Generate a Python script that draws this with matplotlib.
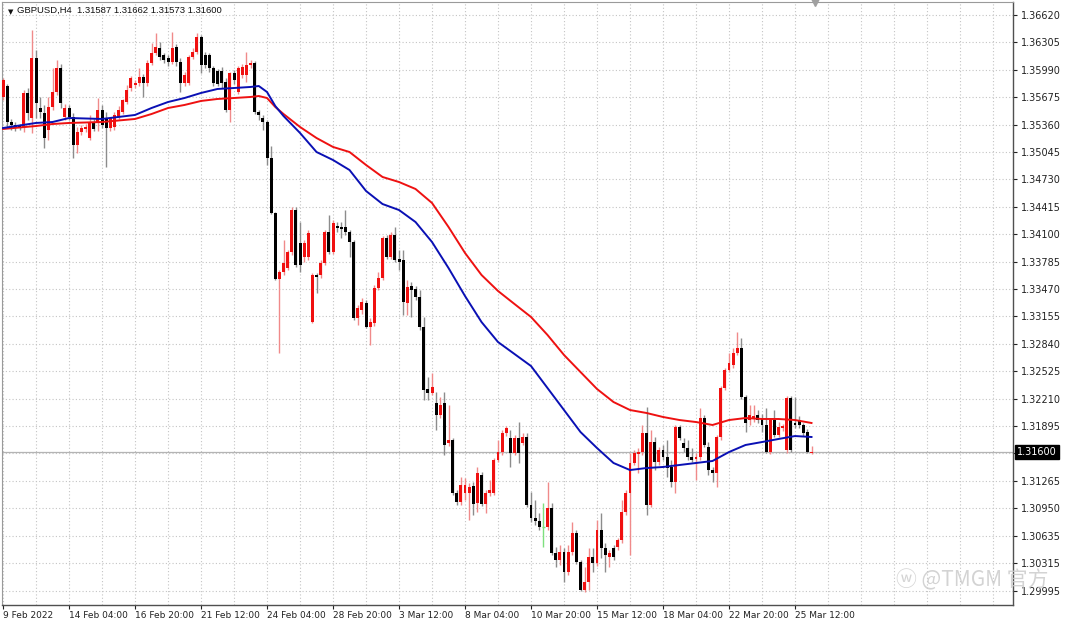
import numpy as np
import matplotlib
matplotlib.use("Agg")
import matplotlib.pyplot as plt
import matplotlib.transforms as mtransforms

# ── H4 candles (GBPUSD) ───────────────────────────────────────────────────────
opens = [
    1.35678, 1.35804, 1.35390, 1.35356, 1.35344, 1.35333, 1.35724, 1.35436, 1.36126, 1.35551,
    1.35494, 1.35298, 1.35563, 1.35735, 1.36011, 1.35448, 1.35551, 1.35448, 1.35126, 1.35275,
    1.35310, 1.35206, 1.35379, 1.35379, 1.35528, 1.35436, 1.35321, 1.35333, 1.35448, 1.35505,
    1.35620, 1.35781, 1.35816, 1.35839, 1.35908, 1.35839, 1.36069, 1.36184, 1.36241, 1.36161,
    1.36126, 1.36080, 1.36253, 1.36080, 1.35839, 1.35839, 1.36138, 1.36195, 1.36368, 1.36161,
    1.36161, 1.36011, 1.35977, 1.35977, 1.35850, 1.35528, 1.35954, 1.35735, 1.35931, 1.35931,
    1.36046, 1.36069, 1.35505, 1.35436, 1.35390, 1.34976, 1.34344, 1.33585, 1.33665, 1.33711,
    1.33895, 1.34378, 1.33999, 1.33838, 1.33838, 1.33090, 1.33631, 1.33631, 1.33769, 1.34125,
    1.33895, 1.34194, 1.34183, 1.34183, 1.34125, 1.34010, 1.33136, 1.33228, 1.33309, 1.33033,
    1.33079, 1.33481, 1.33596, 1.34056, 1.33838, 1.34091, 1.33815, 1.33803, 1.33309, 1.33504,
    1.33470, 1.33378, 1.33033, 1.32320, 1.32274, 1.32159, 1.32021, 1.32159, 1.31699, 1.31733,
    1.31124, 1.31020, 1.31124, 1.31124, 1.31204, 1.31009, 1.31331, 1.30997, 1.31124, 1.31124,
    1.31503, 1.31595, 1.31814, 1.31756, 1.31584, 1.31756, 1.31699, 1.31768, 1.30986, 1.30836,
    1.30802, 1.30733, 1.30733, 1.30951, 1.30434, 1.30353, 1.30445, 1.30215, 1.30445, 1.30664,
    1.30330, 1.30008, 1.30100, 1.30388, 1.30319, 1.30698, 1.30491, 1.30388, 1.30491, 1.30503,
    1.30583, 1.30905, 1.31124, 1.31469, 1.31572, 1.31595, 1.31814, 1.30986, 1.31710, 1.31480,
    1.31618, 1.31538, 1.31423, 1.31250, 1.31883, 1.31699, 1.31641, 1.31538, 1.31515, 1.31538,
    1.31986, 1.31653, 1.31388, 1.31354, 1.31768, 1.32331, 1.32538, 1.32596, 1.32734, 1.32791,
    1.32228, 1.31963, 1.31986, 1.32021, 1.31986, 1.31906, 1.31595, 1.31963, 1.31791, 1.31871,
    1.31618, 1.32216, 1.31929, 1.31963, 1.31906, 1.31825, 1.31587,
]
highs = [
    1.35896, 1.35827, 1.35425, 1.35390, 1.35367, 1.35758, 1.35781, 1.36448, 1.36218, 1.35678,
    1.35586, 1.35678, 1.36011, 1.36103, 1.36057, 1.35597, 1.35586, 1.35494, 1.35333, 1.35356,
    1.35367, 1.35471, 1.35425, 1.35666, 1.35586, 1.35505, 1.35448, 1.35505, 1.35574, 1.35655,
    1.35816, 1.35919, 1.35873, 1.36011, 1.35942, 1.36103, 1.36299, 1.36414, 1.36310, 1.36184,
    1.36161, 1.36425, 1.36287, 1.36126, 1.35965, 1.36161, 1.36241, 1.36414, 1.36391, 1.36195,
    1.36184, 1.36034, 1.36000, 1.36023, 1.35896, 1.35965, 1.35988, 1.36034, 1.36057, 1.36195,
    1.36103, 1.36092, 1.35528, 1.35471, 1.35413, 1.35114, 1.34355, 1.33688, 1.34033, 1.33918,
    1.34413, 1.34413, 1.34240, 1.34033, 1.34148, 1.33654, 1.33654, 1.33803, 1.34148, 1.34321,
    1.34263, 1.34240, 1.34240, 1.34378, 1.34148, 1.34033, 1.33286, 1.33366, 1.33343, 1.33136,
    1.33516, 1.33665, 1.34079, 1.34091, 1.34125, 1.34183, 1.33918, 1.33918, 1.33573, 1.33550,
    1.33504, 1.33458, 1.33148, 1.32458, 1.32504, 1.32285, 1.32228, 1.32285, 1.32136, 1.31756,
    1.31158, 1.31308, 1.31296, 1.31239, 1.31250, 1.31423, 1.31365, 1.31158, 1.31273, 1.31526,
    1.31733, 1.31848, 1.31894, 1.31848, 1.31791, 1.31940, 1.31814, 1.31814, 1.31135, 1.31043,
    1.30894, 1.31009, 1.31250, 1.31009, 1.30503, 1.30526, 1.30491, 1.30526, 1.30790, 1.30698,
    1.30353, 1.30273, 1.30491, 1.30491, 1.30813, 1.30894, 1.30549, 1.30468, 1.30526, 1.30606,
    1.31043, 1.31158, 1.31584, 1.31618, 1.31641, 1.31906, 1.32113, 1.31848, 1.31768, 1.31653,
    1.31676, 1.31733, 1.31503, 1.31906, 1.31906, 1.31756, 1.31733, 1.31641, 1.31584, 1.32101,
    1.32021, 1.31710, 1.31423, 1.31791, 1.32354, 1.32561, 1.32734, 1.32791, 1.32975, 1.32906,
    1.32251, 1.32136, 1.32136, 1.32078, 1.32032, 1.32101, 1.31986, 1.32078, 1.31940, 1.31917,
    1.32239, 1.32239, 1.32228, 1.32009, 1.31929, 1.31860, 1.31662,
]
lows = [
    1.35643, 1.35333, 1.35298, 1.35287, 1.35298, 1.35275, 1.35413, 1.35264, 1.35436, 1.35436,
    1.35091, 1.35183, 1.35528, 1.35701, 1.35551, 1.35413, 1.35413, 1.34976, 1.35034, 1.35241,
    1.35275, 1.35183, 1.35287, 1.35287, 1.35321, 1.34873, 1.35287, 1.35298, 1.35425, 1.35482,
    1.35597, 1.35747, 1.35781, 1.35804, 1.35678, 1.35804, 1.36046, 1.36161, 1.36103, 1.36069,
    1.36034, 1.36057, 1.36034, 1.35735, 1.35804, 1.35816, 1.36115, 1.36172, 1.35954, 1.36011,
    1.35965, 1.35804, 1.35804, 1.35781, 1.35505, 1.35390, 1.35827, 1.35712, 1.35896, 1.35850,
    1.36011, 1.35482, 1.35413, 1.35298, 1.34896, 1.34332, 1.33573, 1.32734, 1.33631, 1.33688,
    1.33861, 1.33723, 1.33665, 1.33780, 1.33803, 1.33079, 1.33424, 1.33596, 1.33746, 1.33872,
    1.33872, 1.34125, 1.34056, 1.34091, 1.33838, 1.33113, 1.33056, 1.33182, 1.33021, 1.32826,
    1.33044, 1.33458, 1.33573, 1.33815, 1.33815, 1.33780, 1.33688, 1.33171, 1.33171, 1.33148,
    1.33343, 1.32998, 1.32193, 1.32193, 1.32251, 1.31848, 1.31986, 1.31561, 1.31664, 1.31101,
    1.30986, 1.30986, 1.31043, 1.30813, 1.30871, 1.30905, 1.30974, 1.30894, 1.31089, 1.31101,
    1.31480, 1.31561, 1.31779, 1.31423, 1.31561, 1.31469, 1.31676, 1.30963, 1.30790, 1.30756,
    1.30698, 1.30503, 1.30698, 1.30411, 1.30273, 1.30296, 1.30100, 1.30181, 1.30411, 1.30307,
    1.29997, 1.29985, 1.30008, 1.30215, 1.30284, 1.30376, 1.30215, 1.30273, 1.30353, 1.30468,
    1.30549, 1.30871, 1.30411, 1.31446, 1.31354, 1.31561, 1.30871, 1.30963, 1.31388, 1.31446,
    1.31503, 1.31308, 1.31193, 1.31124, 1.31733, 1.31595, 1.31503, 1.31480, 1.31273, 1.31503,
    1.31653, 1.31331, 1.31250, 1.31193, 1.31733, 1.32308, 1.32515, 1.32561, 1.32711, 1.32205,
    1.31825, 1.31906, 1.31940, 1.31929, 1.31825, 1.31584, 1.31572, 1.31768, 1.31768, 1.31837,
    1.31584, 1.31595, 1.31871, 1.31871, 1.31779, 1.31584, 1.31573,
]
closes = [
    1.35873, 1.35390, 1.35356, 1.35321, 1.35321, 1.35724, 1.35494, 1.36126, 1.35609, 1.35505,
    1.35206, 1.35563, 1.35735, 1.36011, 1.35609, 1.35551, 1.35448, 1.35126, 1.35275, 1.35321,
    1.35333, 1.35390, 1.35310, 1.35528, 1.35356, 1.35321, 1.35436, 1.35471, 1.35528, 1.35643,
    1.35758, 1.35896, 1.35839, 1.35908, 1.35839, 1.36069, 1.36184, 1.36253, 1.36138, 1.36103,
    1.36080, 1.36241, 1.36080, 1.35839, 1.35931, 1.36138, 1.36195, 1.36368, 1.36046, 1.36046,
    1.36011, 1.35839, 1.35827, 1.35839, 1.35528, 1.35954, 1.35873, 1.36011, 1.36023, 1.36046,
    1.36069, 1.35505, 1.35471, 1.35390, 1.34976, 1.34344, 1.33585, 1.33665, 1.33769, 1.33895,
    1.34378, 1.33746, 1.33746, 1.33999, 1.34114, 1.33631, 1.33608, 1.33769, 1.34125, 1.33895,
    1.34229, 1.34171, 1.34160, 1.34125, 1.34010, 1.33136, 1.33251, 1.33320, 1.33033, 1.33090,
    1.33481, 1.33596, 1.34056, 1.33838, 1.34091, 1.33803, 1.33780, 1.33320, 1.33493, 1.33458,
    1.33378, 1.33033, 1.32308, 1.32274, 1.32343, 1.32021, 1.32136, 1.31676, 1.31733, 1.31124,
    1.31020, 1.31216, 1.31216, 1.31193, 1.30997, 1.31354, 1.30997, 1.31124, 1.31158, 1.31503,
    1.31595, 1.31814, 1.31871, 1.31584, 1.31756, 1.31584, 1.31768, 1.30986, 1.30836, 1.30802,
    1.30733, 1.30733, 1.30951, 1.30434, 1.30353, 1.30445, 1.30215, 1.30445, 1.30664, 1.30330,
    1.30008, 1.30100, 1.30388, 1.30319, 1.30698, 1.30491, 1.30411, 1.30434, 1.30388, 1.30583,
    1.30905, 1.31124, 1.31469, 1.31584, 1.31595, 1.31814, 1.30986, 1.31710, 1.31480, 1.31618,
    1.31538, 1.31411, 1.31250, 1.31883, 1.31756, 1.31641, 1.31538, 1.31503, 1.31538, 1.31986,
    1.31676, 1.31388, 1.31354, 1.31768, 1.32331, 1.32538, 1.32619, 1.32734, 1.32791, 1.32228,
    1.31929, 1.32021, 1.32009, 1.31963, 1.31906, 1.31595, 1.31963, 1.31791, 1.31883, 1.31894,
    1.32216, 1.31618, 1.31906, 1.31906, 1.31814, 1.31595, 1.31600,
]

ma_bars = [0, 8, 12, 16, 24, 32, 36, 40, 44, 48, 52, 56, 60, 62, 64, 66, 68, 72, 76, 80,
           84, 88, 92, 96, 100, 104, 108, 112, 116, 120, 124, 128, 132, 136, 140, 144,
           148, 152, 156, 160, 164, 168, 172, 176, 180, 184, 188, 192, 196]
ma_fast = [1.35321, 1.35379, 1.35390, 1.35436, 1.35425, 1.35471, 1.35551, 1.35620, 1.35666,
           1.35724, 1.35770, 1.35781, 1.35793, 1.35804, 1.35735, 1.35574, 1.35459, 1.35264,
           1.35045, 1.34953, 1.34838, 1.34597, 1.34447, 1.34378, 1.34240, 1.34010, 1.33711,
           1.33389, 1.33090, 1.32860, 1.32722, 1.32584, 1.32331, 1.32078, 1.31825, 1.31641,
           1.31469, 1.31388, 1.31411, 1.31423, 1.31446, 1.31469, 1.31492, 1.31595, 1.31676,
           1.31710, 1.31745, 1.31779, 1.31768]
ma_slow = [1.35310, 1.35344, 1.35367, 1.35379, 1.35390, 1.35425, 1.35482, 1.35551, 1.35586,
           1.35632, 1.35655, 1.35666, 1.35678, 1.35689, 1.35666, 1.35563, 1.35482, 1.35333,
           1.35206, 1.35103, 1.35045, 1.34896, 1.34758, 1.34700, 1.34620, 1.34459, 1.34183,
           1.33884, 1.33631, 1.33447, 1.33297, 1.33148, 1.32941, 1.32711, 1.32515, 1.32320,
           1.32170, 1.32078, 1.32044, 1.31998, 1.31963, 1.31940, 1.31906, 1.31963, 1.31986,
           1.31975, 1.31975, 1.31963, 1.31929]

date_labels = ["9 Feb 2022", "14 Feb 04:00", "16 Feb 20:00", "21 Feb 12:00", "24 Feb 04:00",
               "28 Feb 20:00", "3 Mar 12:00", "8 Mar 04:00", "10 Mar 20:00", "15 Mar 12:00",
               "18 Mar 04:00", "22 Mar 20:00", "25 Mar 12:00"]
price_labels = ["1.36620", "1.36305", "1.35990", "1.35675", "1.35360", "1.35045", "1.34730",
                "1.34415", "1.34100", "1.33785", "1.33470", "1.33155", "1.32840", "1.32525",
                "1.32210", "1.31895", "1.31580", "1.31265", "1.30950", "1.30635", "1.30315",
                "1.29995"]
last_price = "1.31600"
header = "GBPUSD,H4  1.31587 1.31662 1.31573 1.31600"

# ── Colours ───────────────────────────────────────────────────────────────────
C_BULL = "#f01010"
C_BULL_WICK = "#f08a8a"
C_BEAR = "#000000"
C_BEAR_WICK = "#8c8c8c"
C_DOJI = "#7ee07e"
C_FAST = "#0a10b4"
C_SLOW = "#ee1111"
C_GRID = "#c4c4c4"

W, H = 1067, 621
fig = plt.figure(figsize=(W / 100, H / 100), dpi=100)
fig.patch.set_facecolor("white")
ax = fig.add_axes([2 / W, 16 / H, 1011 / W, 603 / H])

o = np.array(opens)
h = np.array(highs)
l = np.array(lows)
c = np.array(closes)
idx = np.arange(len(o))
up = c > o
dn = c < o
dj = c == o

# grid
for b in range(0, 248, 8):
    ax.axvline(b, color=C_GRID, lw=0.8, ls=(0, (1, 2)), zorder=0)
for p in price_labels:
    ax.axhline(float(p), color=C_GRID, lw=0.8, ls=(0, (1, 2)), zorder=0)

# current price line
ax.axhline(float(last_price), color="#b4b4b4", lw=0.9, zorder=1)

# candles
ax.vlines(idx[up], l[up], h[up], color=C_BULL_WICK, lw=1, zorder=2)
ax.vlines(idx[dn], l[dn], h[dn], color=C_BEAR_WICK, lw=1, zorder=2)
ax.vlines(idx[dj], l[dj], h[dj], color=C_DOJI, lw=1, zorder=2)
ax.bar(idx[up], c[up] - o[up], bottom=o[up], width=0.72, color=C_BULL, lw=0, zorder=3)
ax.bar(idx[dn], o[dn] - c[dn], bottom=c[dn], width=0.72, color=C_BEAR, lw=0, zorder=3)
ax.hlines(o[dj], idx[dj] - 0.36, idx[dj] + 0.36, color=C_DOJI, lw=1, zorder=3)

# moving averages
ax.plot(ma_bars, ma_slow, color=C_SLOW, lw=1.4, zorder=4, solid_joinstyle="round")
ax.plot(ma_bars, ma_fast, color=C_FAST, lw=1.4, zorder=4, solid_joinstyle="round")

ax.set_xlim(-0.25, 244.85)
ax.set_ylim(1.29836, 1.36770)

# axes styling
for side in ("left", "top"):
    ax.spines[side].set_color("#9a9a9a")
    ax.spines[side].set_linewidth(0.8)
for side in ("right", "bottom"):
    ax.spines[side].set_color("#505050")
    ax.spines[side].set_linewidth(1.0)

# the scale label that sits under the last-price box is hidden, as in the terminal
shown = ["" if abs(float(p) - float(last_price)) < 0.001 else p for p in price_labels]
ax.yaxis.tick_right()
ax.set_yticks([float(p) for p in price_labels])
ax.set_yticklabels(shown)
ax.tick_params(axis="y", direction="out", length=3, width=0.8, pad=3,
               labelsize=7, colors="#222222")

ax.set_xticks(range(0, 16 * len(date_labels), 16))
ax.set_xticklabels(date_labels)
ax.tick_params(axis="x", direction="out", length=3, width=0.8, pad=1,
               labelsize=6.5, colors="#222222")
for lab in ax.get_xticklabels():
    lab.set_horizontalalignment("left")

# header text
ax.text(0.006, 0.988, "\u25bc", transform=ax.transAxes, fontsize=5,
        ha="left", va="top", color="#111111")
ax.text(0.0145, 0.993, header, transform=ax.transAxes, fontsize=6.8,
        family="Liberation Sans", ha="left", va="top", color="#111111")

# chart-shift marker at the top
ax.plot([196.8], [1.0], marker="v", ms=6, color="#a0a0a0",
        transform=mtransforms.blended_transform_factory(ax.transData, ax.transAxes),
        clip_on=False, zorder=5)

# last price box on the price scale
ax.text(1.004, float(last_price), last_price, fontsize=7, color="white",
        ha="left", va="center",
        transform=mtransforms.blended_transform_factory(ax.transAxes, ax.transData),
        bbox=dict(boxstyle="square,pad=0.2", fc="black", ec="black"), zorder=6,
        clip_on=False)

# watermark
fig.text(0.84, 0.066, "\u24e6 @TMGM 官方", fontsize=15, color="#cccccc",
         family=["Noto Sans CJK SC", "DejaVu Sans"], ha="left", va="center",
         alpha=0.85, zorder=10)

fig.savefig("out.png", dpi=100, facecolor="white")
